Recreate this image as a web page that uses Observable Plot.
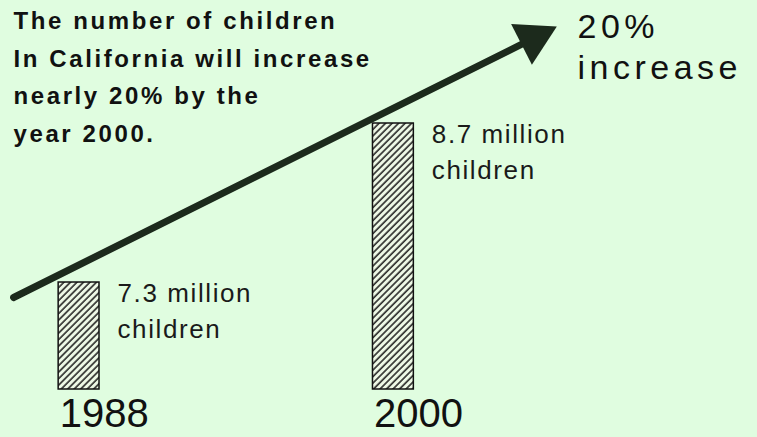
<!DOCTYPE html>
<html>
<head>
<meta charset="utf-8">
<script src="https://cdn.jsdelivr.net/npm/d3@7"></script>
<script src="https://cdn.jsdelivr.net/npm/@observablehq/plot@0.6"></script>
<style>
  html, body { margin: 0; padding: 0; background: #e0fde0; }
  #chart svg { display: block; }
</style>
</head>
<body>
<div id="chart"></div>
<script>
// Data
const years = [1988, 2000];
const children = [7.3, 8.7];            // millions
const valueLabels = ["7.3 million\nchildren", "8.7 million\nchildren"];
const headline = "The number of children\nIn California will increase\nnearly 20% by the\nyear 2000.";
const increaseLabel = "20%\nincrease";
// Trend arrow (year, millions)
const arrowYears = [1985.5, 2005.34];
const arrowValues = [7.168, 9.449];

const yBase = 6.358;
const bars = years.map((y, i) => ({year: y, value: children[i], label: valueLabels[i]}));
const arrow = arrowYears.map((y, i) => ({year: y, value: arrowValues[i]}));

const font = "Liberation Sans, Arial, Helvetica, sans-serif";

const plot = Plot.plot({
  width: 757,
  height: 437,
  marginTop: 0,
  marginLeft: 0,
  marginRight: 0,
  marginBottom: 48,
  style: {background: "#e0fde0", fontFamily: font, color: "#111"},
  x: {domain: [1985, 2013.9], axis: null},
  y: {domain: [yBase, 9.783], axis: null},
  marks: [
    Plot.rectY(bars, {
      x1: d => d.year - 0.78, x2: d => d.year + 0.78,
      y1: yBase, y2: "value",
      fill: "url(#hatch)", stroke: "#111", strokeWidth: 1.5
    }),
    Plot.text(bars, {
      x: d => d.year + 0.78, y: "value", text: "label",
      textAnchor: "start", lineAnchor: "top", dx: 18, dy: -5,
      fontSize: 26, lineHeight: 1.35, fill: "#1a1a1a"
    }),
    Plot.text(years, {
      x: d => d - 0.78, y: yBase, text: d => String(d),
      textAnchor: "start", lineAnchor: "top", dx: 1, dy: 9, fontSize: 40, fill: "#111"
    }),
    Plot.line(arrow, {
      x: "year", y: "value", stroke: "#1c2a1c", strokeWidth: 7, strokeLinecap: "round"
    }),
    Plot.dot(arrow.slice(1), {
      x: "year", y: "value", symbol: "triangle", r: 17, rotate: 63,
      fill: "#1c2a1c", stroke: "none"
    }),
    Plot.text([headline], {
      frameAnchor: "top-left", text: d => d, textAnchor: "start", lineAnchor: "top",
      dx: 13, dy: 2, fontSize: 24, fontWeight: "bold", lineHeight: 1.5625,
      fill: "#111"
    }),
    Plot.text([increaseLabel], {
      frameAnchor: "top-left", text: d => d, textAnchor: "start", lineAnchor: "top",
      dx: 577, dy: 9, fontSize: 34, lineHeight: 1.2, fill: "#111", fontWeight: 500
    })
  ]
});

// letter spacing per text mark (value labels, years, headline, increase)
const spacings = [1.6, 0, 2.6, 4.5];
d3.select(plot).selectAll('g[aria-label="text"]').each(function(_, i) {
  if (spacings[i]) d3.select(this).attr("letter-spacing", spacings[i]);
});

// hatch pattern
const ns = "http://www.w3.org/2000/svg";
const defs = document.createElementNS(ns, "defs");
defs.innerHTML = `<pattern id="hatch" patternUnits="userSpaceOnUse" width="4.6" height="4.6" patternTransform="rotate(45)">
  <rect width="4.6" height="4.6" fill="#eef9e6"></rect>
  <line x1="1" y1="0" x2="1" y2="4.6" stroke="#1a1a1a" stroke-width="1.5"></line>
</pattern>`;
plot.insertBefore(defs, plot.firstChild);
document.getElementById("chart").appendChild(plot);
</script>
</body>
</html>
